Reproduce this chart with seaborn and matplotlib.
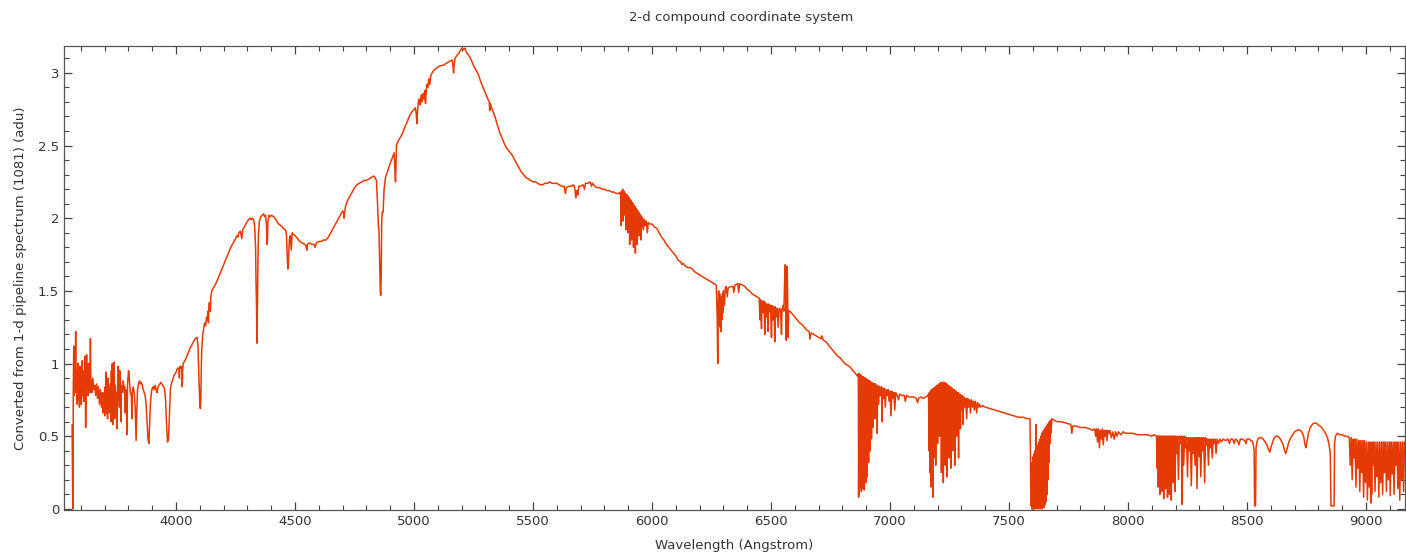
import numpy as np
import pandas as pd
import matplotlib
matplotlib.use("Agg")
import matplotlib.pyplot as plt
import seaborn as sns
from matplotlib.ticker import MultipleLocator, FuncFormatter

# ---------------- data (wavelength in Angstrom, flux in adu) ----------------
seg_blue = [
    (3563, 0.58), (3566, 0.0), (3567, 0.0), (3568, 0.82), (3570, 1.12), (3572, 0.78), (3574, 1.08),
    (3576, 0.85), (3578, 1.22), (3580, 0.80), (3582, 0.95), (3584, 0.72), (3586, 0.88), (3588, 1.0),
    (3590, 0.75), (3592, 0.92), (3594, 0.70), (3596, 0.98), (3598, 0.80), (3600, 0.95), (3602, 0.72),
    (3604, 0.90), (3606, 1.02), (3608, 0.78), (3610, 0.88), (3612, 0.74), (3614, 0.95), (3616, 0.82),
    (3618, 1.05), (3620, 0.56), (3622, 0.90), (3624, 1.06), (3626, 0.85), (3628, 0.92), (3630, 0.78),
    (3632, 1.00), (3634, 0.84), (3636, 0.90), (3638, 0.80), (3640, 1.17), (3642, 0.82), (3644, 0.88),
    (3646, 0.80), (3650, 0.90), (3654, 0.82), (3658, 0.85), (3662, 0.78), (3666, 0.86), (3670, 0.76),
    (3674, 0.84), (3678, 0.72), (3682, 0.82), (3686, 0.70), (3690, 0.80), (3692, 0.66), (3694, 0.78),
    (3696, 0.68), (3698, 0.80), (3700, 0.64), (3702, 0.84), (3704, 0.72), (3706, 0.94), (3708, 0.66),
    (3710, 0.82), (3712, 0.62), (3714, 0.90), (3716, 0.74), (3718, 0.66), (3720, 0.78), (3724, 0.86),
    (3726, 0.60), (3728, 0.95), (3730, 0.76), (3732, 1.00), (3734, 0.58), (3736, 0.98), (3738, 0.80),
    (3740, 1.01), (3742, 0.62), (3744, 0.85), (3746, 0.78), (3750, 0.80), (3752, 0.55), (3754, 0.82),
    (3756, 0.98), (3758, 0.96), (3760, 0.80), (3762, 0.70), (3764, 0.95), (3766, 0.90), (3768, 0.60),
    (3770, 0.85), (3772, 0.82), (3776, 0.80), (3778, 0.88), (3782, 0.82), (3784, 0.84), (3786, 0.66),
    (3788, 0.82), (3792, 0.80), (3794, 0.51), (3796, 0.86), (3798, 0.90), (3800, 0.95), (3802, 0.94),
    (3804, 0.88), (3808, 0.80), (3812, 0.78), (3814, 0.62), (3816, 0.80), (3820, 0.84), (3824, 0.80),
    (3828, 0.70), (3832, 0.47), (3835, 0.68), (3838, 0.82), (3842, 0.86), (3846, 0.88), (3850, 0.86),
    (3854, 0.87), (3858, 0.85), (3862, 0.82), (3866, 0.80), (3870, 0.78), (3874, 0.72), (3878, 0.60),
    (3882, 0.48), (3886, 0.45), (3888, 0.55), (3892, 0.72), (3896, 0.80), (3900, 0.83), (3904, 0.84),
    (3908, 0.82), (3912, 0.85), (3916, 0.82), (3920, 0.80), (3924, 0.84), (3928, 0.85), (3932, 0.86),
    (3936, 0.87), (3940, 0.86), (3944, 0.85), (3948, 0.84), (3952, 0.82), (3956, 0.74), (3960, 0.58),
    (3964, 0.46), (3968, 0.48), (3972, 0.64), (3976, 0.82), (3980, 0.86), (3984, 0.88), (3988, 0.90),
    (3992, 0.92), (3996, 0.93), (4000, 0.94), (4004, 0.96), (4008, 0.97), (4012, 0.96), (4014, 0.90),
    (4016, 0.98), (4020, 0.97), (4024, 0.98), (4026, 0.84), (4028, 0.96), (4030, 1.00), (4040, 1.03),
    (4050, 1.07), (4060, 1.11), (4070, 1.14), (4080, 1.17), (4088, 1.18), (4092, 1.12), (4096, 0.90),
    (4100, 0.72), (4102, 0.69), (4104, 0.75), (4106, 0.98), (4108, 1.10), (4112, 1.20),
]

seg_balmer = [
    (4116, 1.24), (4120, 1.28), (4124, 1.26), (4128, 1.32), (4132, 1.30), (4134, 1.36), (4136, 1.28),
    (4138, 1.40), (4140, 1.42), (4144, 1.36), (4146, 1.46), (4150, 1.50), (4160, 1.53), (4170, 1.56),
    (4180, 1.60), (4190, 1.64), (4200, 1.68), (4210, 1.72), (4220, 1.76), (4230, 1.80), (4240, 1.83),
    (4250, 1.86), (4256, 1.88), (4260, 1.87), (4264, 1.90), (4270, 1.91), (4276, 1.86), (4280, 1.92),
    (4290, 1.95), (4300, 1.98), (4310, 2.00), (4316, 1.99), (4320, 2.00), (4326, 1.99), (4330, 1.95),
    (4334, 1.80), (4336, 1.55), (4338, 1.40), (4340, 1.14), (4342, 1.42), (4344, 1.70), (4346, 1.88),
    (4350, 1.98), (4356, 2.01), (4362, 2.02), (4368, 2.03), (4372, 2.01), (4376, 2.02), (4380, 1.95),
    (4382, 1.82), (4384, 1.85), (4386, 1.98), (4390, 2.02), (4396, 2.01), (4400, 2.02), (4410, 2.01),
    (4420, 1.99), (4430, 1.96), (4440, 1.95), (4450, 1.93), (4460, 1.92), (4464, 1.88), (4468, 1.70),
    (4470, 1.65), (4472, 1.70), (4476, 1.85), (4480, 1.88), (4484, 1.78), (4488, 1.90), (4492, 1.89),
    (4500, 1.88), (4510, 1.86), (4520, 1.84), (4530, 1.83), (4540, 1.82), (4546, 1.81), (4550, 1.78),
    (4552, 1.82), (4560, 1.83), (4570, 1.82), (4580, 1.82), (4584, 1.80), (4590, 1.83), (4600, 1.84),
    (4610, 1.84), (4620, 1.85), (4630, 1.85), (4640, 1.87), (4650, 1.90), (4660, 1.93), (4670, 1.96),
    (4680, 1.99), (4690, 2.02), (4700, 2.05), (4704, 2.04), (4706, 2.00), (4708, 2.04), (4712, 2.08),
    (4720, 2.12), (4730, 2.15), (4740, 2.18), (4750, 2.21), (4760, 2.23), (4770, 2.24), (4780, 2.25),
    (4790, 2.26), (4800, 2.26), (4810, 2.27), (4820, 2.28), (4830, 2.29), (4836, 2.28), (4842, 2.26),
    (4846, 2.12), (4850, 1.95), (4852, 1.93), (4855, 1.75), (4858, 1.50), (4860, 1.47), (4862, 1.60),
    (4864, 1.98), (4866, 2.04), (4870, 2.04), (4874, 2.20), (4880, 2.28), (4890, 2.33), (4900, 2.38),
    (4910, 2.42), (4916, 2.45), (4918, 2.40), (4920, 2.30), (4922, 2.25), (4924, 2.35), (4926, 2.50),
    (4930, 2.52),
]

seg_peak = [
    (4940, 2.55), (4950, 2.58), (4960, 2.62), (4970, 2.66), (4980, 2.70), (4990, 2.73), (5000, 2.75),
    (5006, 2.76), (5010, 2.70), (5012, 2.65), (5014, 2.72), (5018, 2.80), (5022, 2.82), (5026, 2.78),
    (5030, 2.85), (5034, 2.80), (5038, 2.86), (5042, 2.82), (5046, 2.88), (5048, 2.79), (5050, 2.85),
    (5054, 2.92), (5058, 2.90), (5062, 2.96), (5066, 2.92), (5070, 2.98), (5076, 3.00), (5084, 3.02),
    (5092, 3.03), (5100, 3.04), (5110, 3.05), (5120, 3.05), (5130, 3.06), (5140, 3.07), (5150, 3.08),
    (5160, 3.09), (5164, 3.04), (5166, 3.00), (5168, 3.05), (5172, 3.10), (5180, 3.12), (5190, 3.14),
    (5196, 3.16), (5202, 3.17), (5208, 3.16), (5214, 3.17), (5220, 3.14), (5230, 3.12), (5240, 3.09),
    (5250, 3.05), (5260, 3.02), (5270, 2.99), (5280, 2.94), (5290, 2.90), (5300, 2.86), (5310, 2.82),
    (5316, 2.80), (5318, 2.74), (5320, 2.79), (5330, 2.74), (5340, 2.70), (5350, 2.64), (5360, 2.59),
    (5370, 2.55), (5380, 2.51), (5390, 2.48), (5400, 2.46), (5410, 2.44), (5420, 2.41), (5430, 2.38),
    (5440, 2.35), (5450, 2.32), (5460, 2.30), (5470, 2.28), (5480, 2.27), (5490, 2.26), (5500, 2.25),
    (5510, 2.25), (5520, 2.24), (5530, 2.23), (5540, 2.23), (5550, 2.24), (5560, 2.24), (5570, 2.25),
    (5580, 2.24), (5590, 2.24), (5600, 2.24), (5610, 2.23), (5620, 2.22), (5630, 2.22), (5636, 2.17),
    (5640, 2.21), (5650, 2.22), (5660, 2.22), (5670, 2.23), (5676, 2.20), (5680, 2.14), (5684, 2.19),
    (5688, 2.16), (5692, 2.22), (5700, 2.22), (5710, 2.23), (5716, 2.20), (5720, 2.24), (5730, 2.24),
    (5740, 2.25), (5746, 2.22), (5750, 2.24), (5760, 2.22), (5770, 2.21), (5780, 2.21), (5790, 2.20),
    (5800, 2.20), (5810, 2.19), (5820, 2.19), (5830, 2.18), (5840, 2.18), (5850, 2.17), (5860, 2.17),
    (5866, 2.18),
]

seg_red = [
    (5868, 2.15), (5870, 1.95), (5872, 2.18), (5874, 2.05), (5876, 2.20), (5878, 1.98), (5880, 2.19),
    (5882, 2.02), (5884, 2.18), (5886, 2.05), (5888, 2.17), (5890, 1.92), (5892, 2.16), (5894, 2.00),
    (5896, 2.16), (5898, 1.90), (5900, 2.15), (5902, 1.96), (5904, 2.14), (5906, 1.82), (5908, 2.13),
    (5910, 1.95), (5912, 2.12), (5914, 1.85), (5916, 2.11), (5918, 1.98), (5920, 2.10), (5922, 1.80),
    (5924, 2.09), (5926, 1.90), (5928, 2.08), (5930, 1.76), (5932, 2.07), (5934, 1.92), (5936, 2.06),
    (5938, 1.82), (5940, 2.05), (5942, 1.95), (5944, 2.04), (5946, 1.88), (5948, 2.03), (5950, 1.96),
    (5952, 2.02), (5954, 1.85), (5956, 2.01), (5958, 1.94), (5960, 2.00), (5964, 1.92), (5968, 1.99),
    (5972, 1.95), (5976, 1.98), (5980, 1.90), (5984, 1.97), (5990, 1.96), (6000, 1.96), (6010, 1.94),
    (6020, 1.93), (6030, 1.90), (6040, 1.87), (6050, 1.85), (6060, 1.82), (6070, 1.80), (6080, 1.78),
    (6090, 1.76), (6100, 1.74), (6110, 1.71), (6120, 1.70), (6126, 1.68), (6130, 1.69), (6140, 1.67),
    (6150, 1.66), (6160, 1.66), (6170, 1.65), (6180, 1.63), (6190, 1.62), (6200, 1.61), (6210, 1.60),
    (6220, 1.59), (6230, 1.58), (6240, 1.57), (6250, 1.56), (6260, 1.55), (6270, 1.54), (6274, 1.30),
    (6276, 1.00), (6278, 1.40), (6280, 1.50), (6282, 1.28), (6284, 1.48), (6286, 1.25), (6288, 1.46),
    (6290, 1.22), (6292, 1.45), (6294, 1.30), (6296, 1.48), (6298, 1.35), (6300, 1.50), (6304, 1.40),
    (6308, 1.52), (6312, 1.53), (6316, 1.46), (6320, 1.52), (6330, 1.53), (6340, 1.53), (6344, 1.49),
    (6348, 1.54), (6360, 1.55), (6364, 1.49), (6368, 1.55), (6380, 1.54), (6390, 1.53), (6400, 1.51),
    (6410, 1.50), (6420, 1.48), (6430, 1.47), (6440, 1.46), (6450, 1.45), (6454, 1.30), (6456, 1.44),
    (6460, 1.24), (6462, 1.43), (6466, 1.35), (6470, 1.43), (6474, 1.20), (6476, 1.42), (6480, 1.32),
    (6484, 1.41), (6488, 1.22), (6490, 1.41), (6494, 1.36), (6498, 1.40), (6502, 1.18), (6504, 1.40),
    (6508, 1.30), (6512, 1.39), (6516, 1.15), (6518, 1.39), (6522, 1.32), (6526, 1.38), (6530, 1.25),
    (6534, 1.38), (6540, 1.37), (6544, 1.20), (6546, 1.37), (6550, 1.40), (6554, 1.36), (6556, 1.50),
    (6558, 1.62), (6560, 1.68), (6562, 1.40), (6564, 1.16), (6566, 1.60), (6568, 1.67), (6570, 1.45),
    (6572, 1.18), (6574, 1.36), (6580, 1.36), (6590, 1.34), (6600, 1.32), (6610, 1.30), (6620, 1.28),
    (6630, 1.27), (6640, 1.25), (6650, 1.23), (6660, 1.22), (6664, 1.17), (6666, 1.20), (6670, 1.21),
    (6680, 1.20), (6690, 1.19), (6700, 1.18), (6710, 1.17), (6714, 1.19), (6720, 1.16), (6730, 1.15),
    (6740, 1.13), (6750, 1.11), (6760, 1.09), (6770, 1.07), (6780, 1.05), (6790, 1.04), (6800, 1.02),
    (6810, 1.00), (6820, 0.99), (6830, 0.98), (6840, 0.96), (6850, 0.94), (6860, 0.92), (6866, 0.91),
]

seg_b_band = [
    (6867, 0.93), (6868, 0.08), (6870, 0.93), (6871, 0.10), (6873, 0.92), (6874, 0.15), (6876, 0.92),
    (6877, 0.25), (6879, 0.92), (6880, 0.12), (6882, 0.91), (6883, 0.22), (6885, 0.91), (6886, 0.14),
    (6888, 0.91), (6889, 0.20), (6891, 0.90), (6892, 0.13), (6894, 0.90), (6895, 0.24), (6897, 0.90),
    (6898, 0.18), (6900, 0.89), (6901, 0.30), (6903, 0.89), (6904, 0.22), (6906, 0.89), (6907, 0.40),
    (6909, 0.88), (6910, 0.32), (6912, 0.88), (6913, 0.50), (6915, 0.88), (6916, 0.40), (6918, 0.87),
    (6919, 0.58), (6921, 0.87), (6922, 0.48), (6924, 0.87), (6925, 0.66), (6927, 0.86), (6928, 0.56),
    (6930, 0.86), (6932, 0.72), (6934, 0.86), (6936, 0.62), (6938, 0.86), (6940, 0.76), (6944, 0.85),
    (6946, 0.52), (6948, 0.85), (6952, 0.72), (6956, 0.84), (6960, 0.78), (6964, 0.84), (6966, 0.60),
    (6968, 0.83), (6972, 0.76), (6976, 0.83), (6980, 0.70), (6984, 0.82), (6988, 0.78), (6992, 0.82),
    (6996, 0.74), (7000, 0.81), (7004, 0.64), (7008, 0.81), (7012, 0.76), (7016, 0.80), (7020, 0.68),
    (7024, 0.80), (7030, 0.78), (7036, 0.75), (7040, 0.79), (7050, 0.78), (7060, 0.78), (7064, 0.74),
    (7070, 0.78), (7080, 0.77), (7090, 0.77), (7100, 0.77), (7110, 0.76), (7116, 0.73), (7120, 0.76),
    (7130, 0.77), (7140, 0.76), (7150, 0.77), (7160, 0.78),
]

seg_water = [
    (7162, 0.79), (7164, 0.40), (7166, 0.80), (7168, 0.25), (7170, 0.81), (7172, 0.15), (7174, 0.82),
    (7176, 0.30), (7178, 0.82), (7180, 0.08), (7182, 0.83), (7184, 0.35), (7186, 0.83), (7188, 0.45),
    (7190, 0.84), (7192, 0.30), (7194, 0.84), (7196, 0.55), (7198, 0.85), (7200, 0.45), (7202, 0.85),
    (7204, 0.60), (7206, 0.86), (7208, 0.50), (7210, 0.86), (7212, 0.62), (7214, 0.87), (7216, 0.25),
    (7218, 0.87), (7220, 0.60), (7222, 0.87), (7224, 0.18), (7226, 0.87), (7228, 0.62), (7230, 0.87),
    (7232, 0.30), (7234, 0.86), (7236, 0.60), (7238, 0.86), (7240, 0.22), (7242, 0.85), (7244, 0.63),
    (7246, 0.85), (7248, 0.35), (7250, 0.84), (7252, 0.64), (7254, 0.84), (7256, 0.28), (7258, 0.83),
    (7260, 0.62), (7262, 0.83), (7264, 0.40), (7266, 0.82), (7268, 0.65), (7270, 0.82), (7272, 0.30),
    (7274, 0.81), (7276, 0.64), (7278, 0.81), (7280, 0.50), (7282, 0.80), (7284, 0.66), (7286, 0.80),
    (7288, 0.35), (7290, 0.79), (7292, 0.67), (7294, 0.79), (7296, 0.55), (7298, 0.78), (7300, 0.68),
    (7304, 0.78), (7306, 0.58), (7310, 0.77), (7314, 0.70), (7318, 0.76), (7322, 0.62), (7326, 0.76),
    (7330, 0.70), (7334, 0.75), (7338, 0.66), (7342, 0.75), (7346, 0.70), (7350, 0.74), (7354, 0.68),
    (7358, 0.74), (7360, 0.73), (7364, 0.66), (7368, 0.73), (7372, 0.70), (7376, 0.72), (7380, 0.70),
    (7390, 0.71), (7400, 0.70),
]

seg_a_band = [
    (7420, 0.69), (7440, 0.68), (7460, 0.67), (7480, 0.66), (7500, 0.65), (7520, 0.64), (7540, 0.63),
    (7560, 0.63), (7580, 0.62), (7588, 0.62), (7590, 0.40), (7592, 0.02), (7594, 0.30), (7596, 0.00),
    (7598, 0.32), (7600, 0.00), (7602, 0.36), (7604, 0.00), (7606, 0.38), (7608, 0.00), (7610, 0.40),
    (7612, 0.01), (7614, 0.58), (7616, 0.00), (7618, 0.42), (7620, 0.01), (7622, 0.44), (7624, 0.00),
    (7626, 0.46), (7628, 0.01), (7630, 0.48), (7632, 0.00), (7634, 0.50), (7636, 0.01), (7638, 0.52),
    (7640, 0.00), (7642, 0.53), (7644, 0.02), (7646, 0.54), (7648, 0.01), (7650, 0.55), (7652, 0.03),
    (7654, 0.56), (7656, 0.05), (7658, 0.57), (7660, 0.10), (7662, 0.58), (7664, 0.20), (7666, 0.59),
    (7668, 0.32), (7670, 0.60), (7672, 0.45), (7674, 0.61), (7676, 0.52), (7680, 0.62), (7690, 0.61),
    (7700, 0.60), (7720, 0.60), (7740, 0.59), (7760, 0.58), (7764, 0.52), (7768, 0.57), (7780, 0.57),
    (7800, 0.56), (7820, 0.56), (7840, 0.55), (7850, 0.54), (7860, 0.55), (7864, 0.50), (7868, 0.55),
    (7872, 0.46), (7876, 0.55), (7880, 0.42), (7884, 0.54), (7888, 0.48), (7892, 0.55), (7896, 0.44),
    (7900, 0.54), (7904, 0.50), (7908, 0.54), (7912, 0.47), (7916, 0.54), (7920, 0.52), (7924, 0.54),
    (7930, 0.49), (7936, 0.53), (7942, 0.48), (7948, 0.53), (7954, 0.50), (7960, 0.53), (7970, 0.51),
    (7980, 0.53), (7990, 0.52), (8000, 0.52), (8020, 0.52), (8040, 0.51), (8060, 0.51), (8080, 0.51),
    (8100, 0.50), (8110, 0.51),
]

seg_ir_water = [
    (8120, 0.50), (8122, 0.28), (8124, 0.50), (8126, 0.15), (8128, 0.50), (8130, 0.22), (8132, 0.50),
    (8134, 0.10), (8136, 0.50), (8138, 0.30), (8140, 0.50), (8142, 0.12), (8144, 0.50), (8146, 0.35),
    (8148, 0.50), (8150, 0.07), (8152, 0.50), (8154, 0.25), (8156, 0.50), (8158, 0.14), (8160, 0.50),
    (8162, 0.32), (8164, 0.50), (8166, 0.08), (8168, 0.50), (8170, 0.20), (8172, 0.50), (8174, 0.10),
    (8176, 0.50), (8178, 0.30), (8180, 0.50), (8182, 0.06), (8184, 0.50), (8186, 0.35), (8188, 0.50),
    (8190, 0.18), (8192, 0.50), (8194, 0.40), (8196, 0.50), (8198, 0.12), (8200, 0.50), (8204, 0.38),
    (8208, 0.50), (8212, 0.20), (8216, 0.50), (8220, 0.45), (8224, 0.50), (8228, 0.03), (8230, 0.50),
    (8234, 0.30), (8238, 0.50), (8242, 0.42), (8246, 0.49), (8250, 0.22), (8254, 0.49), (8258, 0.40),
    (8262, 0.49), (8266, 0.16), (8270, 0.49), (8274, 0.38), (8278, 0.49), (8282, 0.30), (8286, 0.49),
    (8290, 0.14), (8294, 0.49), (8298, 0.36), (8302, 0.49), (8306, 0.22), (8310, 0.49), (8314, 0.40),
    (8318, 0.49), (8322, 0.18), (8326, 0.49), (8330, 0.44), (8334, 0.48), (8338, 0.30), (8342, 0.48),
    (8346, 0.42), (8350, 0.48), (8354, 0.35), (8358, 0.48), (8362, 0.45), (8366, 0.48), (8370, 0.38),
    (8374, 0.48), (8380, 0.45), (8386, 0.48), (8392, 0.46), (8400, 0.48), (8410, 0.47), (8420, 0.48),
    (8426, 0.45), (8432, 0.48), (8440, 0.48), (8446, 0.45), (8452, 0.48), (8460, 0.47), (8466, 0.44),
    (8472, 0.48), (8480, 0.48), (8490, 0.47), (8496, 0.45), (8500, 0.48), (8510, 0.48), (8516, 0.47),
    (8520, 0.47), (8526, 0.45), (8530, 0.40), (8532, 0.02), (8536, 0.02), (8538, 0.42), (8542, 0.46),
]

seg_paschen = [
    (8546, 0.48), (8552, 0.49), (8560, 0.49), (8568, 0.48), (8576, 0.46), (8584, 0.44), (8590, 0.41),
    (8596, 0.39), (8600, 0.42), (8606, 0.45), (8612, 0.48), (8620, 0.50), (8628, 0.50), (8636, 0.49),
    (8644, 0.47), (8652, 0.44), (8658, 0.40), (8663, 0.38), (8668, 0.41), (8676, 0.46), (8684, 0.49),
    (8692, 0.51), (8700, 0.53), (8710, 0.54), (8720, 0.545), (8730, 0.53), (8738, 0.50), (8744, 0.44),
    (8748, 0.42), (8752, 0.46), (8758, 0.52), (8766, 0.56), (8774, 0.58), (8782, 0.59), (8790, 0.59),
    (8798, 0.58), (8806, 0.57), (8814, 0.56), (8822, 0.54), (8830, 0.52), (8838, 0.49), (8844, 0.45),
    (8850, 0.38), (8853, 0.02), (8866, 0.02), (8868, 0.45), (8872, 0.50), (8880, 0.52), (8890, 0.51),
    (8900, 0.51), (8910, 0.50), (8920, 0.50), (8930, 0.49),
]

seg_far_red = [
    (8934, 0.30), (8938, 0.49), (8942, 0.20), (8946, 0.48), (8950, 0.35), (8954, 0.48), (8958, 0.15),
    (8962, 0.48), (8966, 0.28), (8970, 0.47), (8974, 0.12), (8978, 0.47), (8982, 0.25), (8986, 0.47),
    (8990, 0.08), (8994, 0.47), (8998, 0.18), (9002, 0.46), (9006, 0.06), (9010, 0.46), (9014, 0.15),
    (9018, 0.46), (9020, 0.04), (9022, 0.40), (9024, 0.10), (9026, 0.46), (9030, 0.30), (9034, 0.46),
    (9038, 0.12), (9042, 0.46), (9046, 0.22), (9050, 0.46), (9054, 0.08), (9058, 0.46), (9062, 0.18),
    (9066, 0.46), (9070, 0.10), (9074, 0.46), (9078, 0.25), (9082, 0.46), (9086, 0.12), (9090, 0.46),
    (9094, 0.20), (9098, 0.46), (9102, 0.09), (9106, 0.46), (9110, 0.24), (9114, 0.46), (9118, 0.10),
    (9122, 0.46), (9126, 0.30), (9130, 0.46), (9134, 0.14), (9138, 0.46), (9142, 0.06), (9146, 0.46),
    (9150, 0.20), (9154, 0.46), (9158, 0.12), (9162, 0.46), (9166, 0.35),
]

x_ticks = [4000, 4500, 5000, 5500, 6000, 6500, 7000, 7500, 8000, 8500, 9000]
y_ticks = [0, 0.5, 1, 1.5, 2, 2.5, 3]
title_text = "2-d compound coordinate system"
x_label = "Wavelength (Angstrom)"
y_label = "Converted from 1-d pipeline spectrum (1081) (adu)"

segments = [seg_blue, seg_balmer, seg_peak, seg_red, seg_b_band, seg_water,
            seg_a_band, seg_ir_water, seg_paschen, seg_far_red]
pairs = [p for seg in segments for p in seg]
df = pd.DataFrame(pairs, columns=["wavelength", "flux"])

# ---------------- plot ----------------
sns.set_theme(style="ticks")
plt.rcParams["font.family"] = ["DejaVu Sans"]

fig = plt.figure(figsize=(14.06, 5.58), dpi=100)
ax = fig.add_axes([64 / 1406, 1 - 510 / 558, (1405 - 64) / 1406, (510 - 46) / 558])

sns.lineplot(data=df, x="wavelength", y="flux", estimator=None, sort=False,
             color="#e63a05", linewidth=1.1, ax=ax)

ax.set_xlim(3529, 9164)
ax.set_ylim(-0.008, 3.185)
ax.set_xticks(x_ticks)
ax.set_yticks(y_ticks)
ax.xaxis.set_minor_locator(MultipleLocator(100))
ax.yaxis.set_minor_locator(MultipleLocator(0.1))
ax.yaxis.set_major_formatter(FuncFormatter(lambda v, p: f"{v:g}"))
ax.tick_params(which="both", direction="in", top=True, right=True,
               colors="#444444", labelsize=9.5, labelcolor="#333333")
ax.tick_params(which="major", length=6, width=0.9)
ax.tick_params(which="minor", length=3.5, width=0.8)
for s in ax.spines.values():
    s.set_color("#555555")
    s.set_linewidth(0.9)

ax.set_xlabel(x_label, fontsize=9.5, color="#333333", labelpad=8)
ax.set_ylabel(y_label, fontsize=9.5, color="#333333", labelpad=8)
fig.text(741 / 1406, 1 - 17 / 558, title_text, ha="center", va="center",
         fontsize=9.5, color="#333333")

fig.savefig("out.png", dpi=100, facecolor="white")
